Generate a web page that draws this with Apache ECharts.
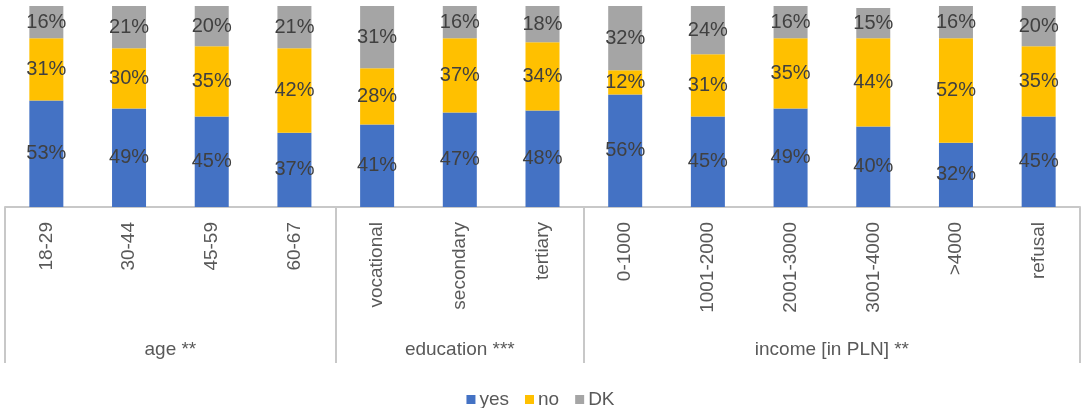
<!DOCTYPE html>
<html>
<head>
<meta charset="utf-8">
<script src="https://cdn.jsdelivr.net/npm/echarts@6/dist/echarts.min.js"></script>
<style>
  html, body { margin: 0; padding: 0; background: #fff; }
  #chart { width: 1081px; height: 408px; }
</style>
</head>
<body>
<div id="chart"></div>
<script>
// categories & values (percent)
var categories = ['18-29', '30-44', '45-59', '60-67', 'vocational', 'secondary', 'tertiary',
                  '0-1000', '1001-2000', '2001-3000', '3001-4000', '>4000', 'refusal'];
var yesValues = [53, 49, 45, 37, 41, 47, 48, 56, 45, 49, 40, 32, 45];
var noValues  = [31, 30, 35, 42, 28, 37, 34, 12, 31, 35, 44, 52, 35];
var dkValues  = [16, 21, 20, 21, 31, 16, 18, 32, 24, 16, 15, 16, 20];

// groups of the lower axis level
var groupNames = ['age **', 'education ***', 'income [in PLN] **'];
var groupSizes = [4, 3, 6];

var groupBounds = [0];
var groupCenters = [];
groupSizes.forEach(function (n, i) {
    groupCenters.push(groupBounds[i] + n / 2);
    groupBounds.push(groupBounds[i] + n);
});

var FONT = '"Liberation Sans", Arial, sans-serif';
var labelStyle = {
    show: true,
    position: 'inside',
    formatter: '{c}%',
    color: '#404040',
    fontSize: 20,
    fontFamily: FONT
};

function barSeries(name, data, color) {
    return {
        name: name,
        type: 'bar',
        stack: 'total',
        barWidth: 34,
        data: data,
        itemStyle: { color: color },
        label: labelStyle,
        emphasis: { disabled: true }
    };
}

var chart = echarts.init(document.getElementById('chart'));
chart.setOption({
    animation: false,
    textStyle: { fontFamily: FONT },
    grid: { left: 5, right: 1, top: 6, height: 201 },
    legend: {
        top: 385,
        left: 'center',
        itemWidth: 9,
        itemHeight: 9,
        itemGap: 16,
        icon: 'rect',
        textStyle: { color: '#595959', fontSize: 19, fontFamily: FONT, padding: [0, 0, 0, -1] },
        data: ['yes', 'no', 'DK']
    },
    xAxis: [{
        type: 'category',
        data: categories,
        axisLine: { lineStyle: { color: '#c8c8c8', width: 2 } },
        axisTick: { show: false },
        axisLabel: {
            rotate: 90,
            margin: 15,
            color: '#595959',
            fontSize: 19,
            fontFamily: FONT
        }
    }, {
        type: 'value',
        position: 'bottom',
        min: 0,
        max: categories.length,
        axisLine: { show: false },
        splitLine: { show: false },
        axisTick: {
            show: true,
            customValues: groupBounds,
            length: 156,
            lineStyle: { color: '#c8c8c8', width: 2 }
        },
        axisLabel: {
            customValues: groupCenters,
            margin: 133,
            color: '#595959',
            fontSize: 19,
            fontFamily: FONT,
            formatter: function (v) {
                return groupNames[groupCenters.indexOf(v)];
            }
        }
    }],
    yAxis: {
        type: 'value',
        min: 0,
        max: 100,
        show: false
    },
    series: [
        barSeries('yes', yesValues, '#4472C4'),
        barSeries('no', noValues, '#FFC000'),
        barSeries('DK', dkValues, '#A5A5A5')
    ]
});
</script>
</body>
</html>
